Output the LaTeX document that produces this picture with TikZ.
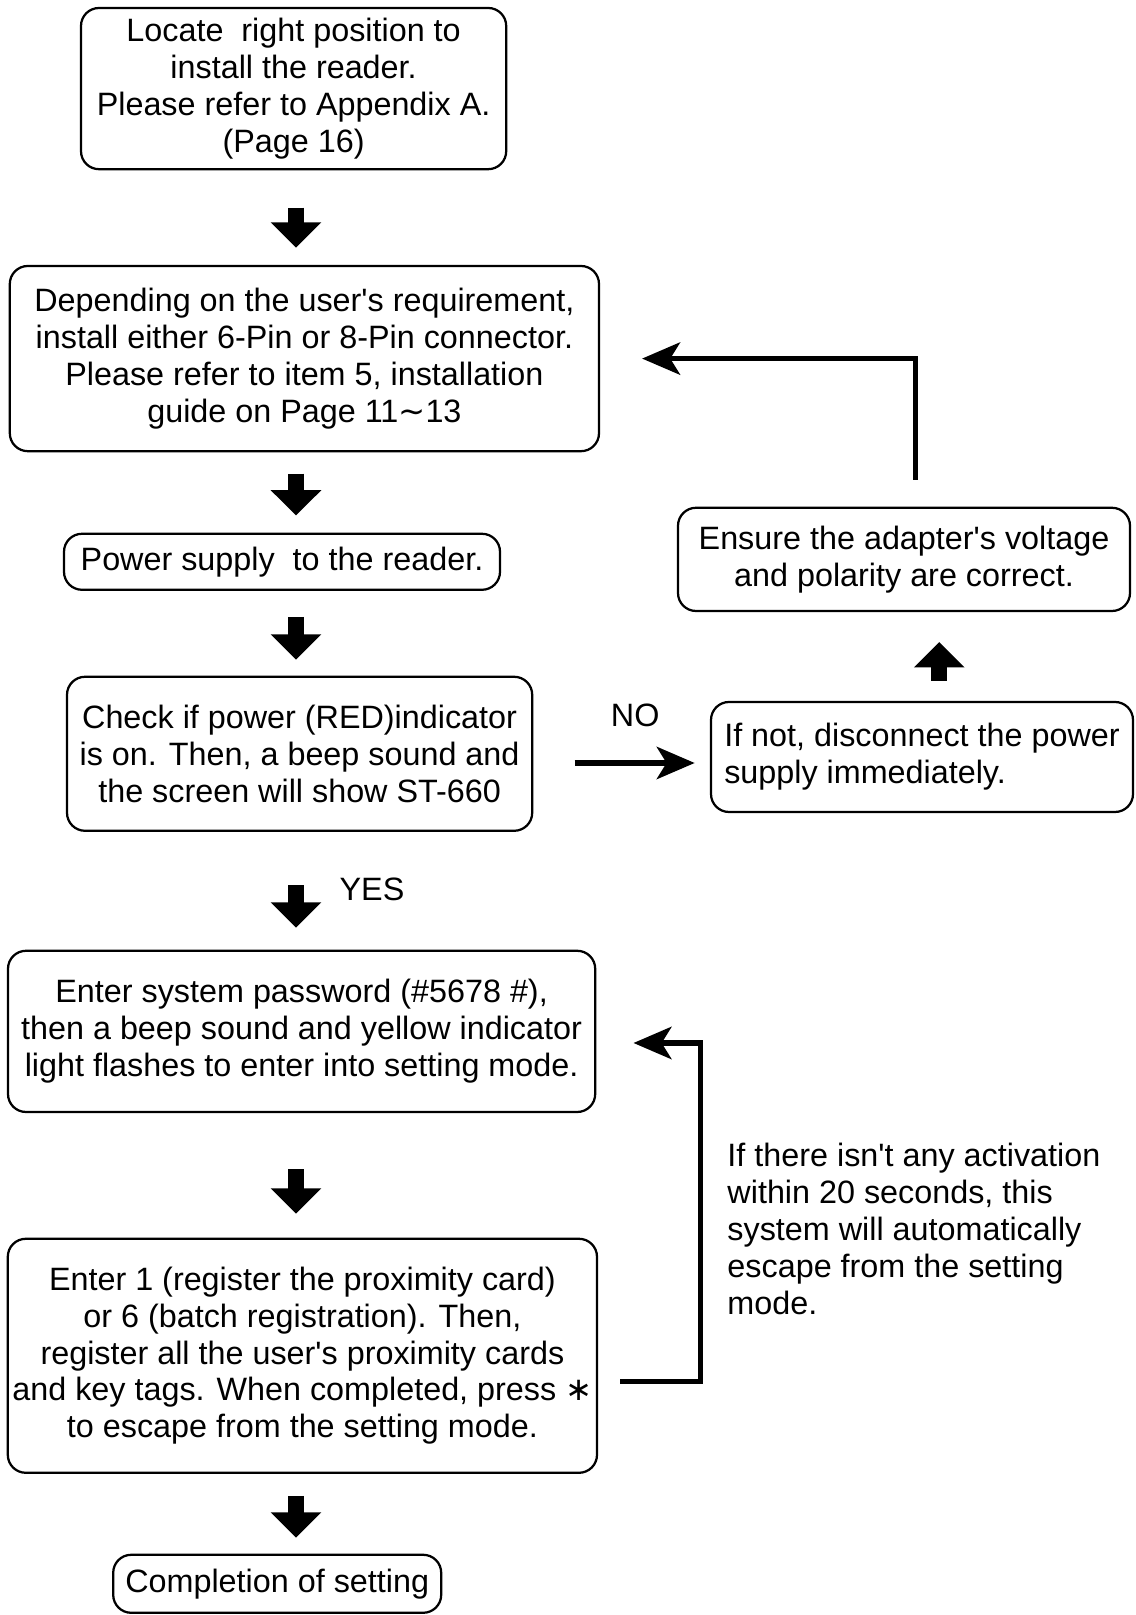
\documentclass[tikz,border=0pt]{standalone}
\usepackage{fontspec}
\setmainfont{Liberation Sans}
\newfontfamily\symbfont{DejaVu Sans}
\usetikzlibrary{arrows.meta,calc}
\begin{document}
\begin{tikzpicture}[
  box/.style={draw, line width=1.6pt, rounded corners=0.45cm, align=center, inner sep=0pt, font=\fontsize{23pt}{26.2pt}\selectfont},
  lbl/.style={inner sep=0pt, font=\fontsize{23pt}{26.2pt}\selectfont},
  bigarrow/.style={line width=11.5pt, -{Triangle[width=35pt,length=18pt]}},
  thinarrow/.style={line width=3.6pt, -{Stealth[width=23pt,length=27pt,inset=7pt]}}]
  \useasboundingbox (0, 0) rectangle (28.4, 40.375);
  \coordinate (ax) at (7.4, 0);
  \coordinate (ux) at (23.48, 0);
  \node[box, minimum width=10.63cm, minimum height=4.03cm] (locate) at (7.34, 38.16)
    {Locate\ \ right position to\\install the reader.\\Please refer to Appendix A.\\(Page 16)};
  \node[box, minimum width=14.73cm, minimum height=4.63cm] (connector) at (7.61, 31.41)
    {Depending on the user\textquotesingle s requirement,\\install either 6-Pin or 8-Pin connector.\\Please refer to item 5, installation\\guide on Page 11{\symbfont ∼}13};
  \node[box, minimum width=10.9cm, minimum height=1.4cm] (power) at (7.05, 26.33)
    {Power supply\ \ to the reader.};
  \node[box, minimum width=11.63cm, minimum height=3.85cm] (check) at (7.49, 21.53)
    {Check if power (RED)indicator\\is on. Then, a beep sound and\\the screen will show ST-660};
  \node[box, align=left, minimum width=10.55cm, minimum height=2.75cm] (disconnect) at (23.05, 21.45)
    {If not, disconnect the power\\supply immediately.};
  \node[box, minimum width=11.3cm, minimum height=2.58cm] (ensure) at (22.6, 26.39)
    {Ensure the adapter\textquotesingle s voltage\\and polarity are correct.};
  \node[box, minimum width=14.68cm, minimum height=4.03cm] (password) at (7.54, 14.59)
    {Enter system password (\#5678 \#),\\then a beep sound and yellow indicator\\light flashes to enter into setting mode.};
  \node[box, minimum width=14.73cm, minimum height=5.85cm] (register) at (7.56, 6.48)
    {Enter 1 (register the proximity card)\\or 6 (batch registration). Then,\\register all the user\textquotesingle s proximity cards\\and key tags. When completed, press {\symbfont ∗}\\to escape from the setting mode.};
  \node[box, minimum width=8.2cm, minimum height=1.45cm] (done) at (6.93, 0.78)
    {Completion of setting};
  \node[lbl] (no) at (15.88, 22.5) {NO};
  \node[lbl] (yes) at (9.3, 18.13) {YES};
  \node[lbl, anchor=west, align=left] (note) at (18.18, 9.65)
    {If there isn\textquotesingle t any activation\\within 20 seconds, this\\system will automatically\\escape from the setting\\mode.};
  % main flow
  \draw[bigarrow, shorten <=0.93cm, shorten >=0.43cm] (locate.south -| ax) -- (connector.north -| ax);
  \draw[bigarrow, shorten <=0.53cm, shorten >=0.43cm] (connector.south -| ax) -- (power.north -| ax);
  \draw[bigarrow, shorten <=0.65cm, shorten >=0.4cm] (power.south -| ax) -- (check.north -| ax);
  \draw[bigarrow, shorten <=1.33cm, shorten >=0.55cm] (check.south -| ax) -- (password.north -| ax);
  \draw[bigarrow, shorten <=1.4cm, shorten >=0.6cm] (password.south -| ax) -- (register.north -| ax);
  \draw[bigarrow, shorten <=0.55cm, shorten >=0.4cm] (register.south -| ax) -- (done.north -| ax);
  \draw[bigarrow, shorten <=0.5cm, shorten >=0.75cm] (disconnect.north -| ux) -- (ensure.south -| ux);
  \draw[thinarrow, shorten <=1.03cm, shorten >=0.38cm] ([yshift=-0.23cm]check.east) -- ([yshift=-0.23cm]check.east -| disconnect.west);
  \coordinate (fb) at (22.88, 28.38);
  \draw[thinarrow, shorten >=1.05cm] (fb) |- (connector.east);
  \draw[thinarrow, shorten <=0.55cm, shorten >=0.93cm] ([yshift=-0.65cm]register.east) -- ++(2.55, 0) |- ([yshift=-0.29cm]password.east);
\end{tikzpicture}
\end{document}
